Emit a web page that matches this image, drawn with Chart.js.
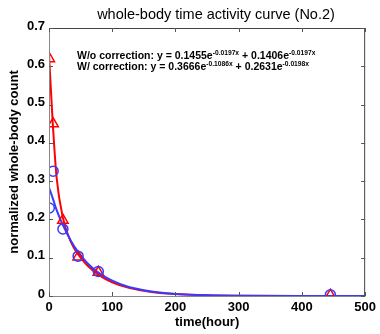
<!DOCTYPE html>
<html>
<head>
<meta charset="utf-8">
<script src="https://cdn.jsdelivr.net/npm/chart.js@4/dist/chart.umd.min.js"></script>
<style>
  html, body { margin: 0; padding: 0; background: #fff; }
  #wrap { width: 380px; height: 334px; }
</style>
</head>
<body>
<div id="wrap"><canvas id="tacChart"></canvas></div>
<script>
// measured points (hours, normalized count)
const sampleTimes = [0.5, 6.5, 22, 46, 78, 445];
const withCorrection = [0.62, 0.45, 0.198, 0.102, 0.062, 0.002];
const withoutCorrection = [0.23, 0.326, 0.175, 0.104, 0.064, 0.003];

// fitted curves
const fitTimes = [0, 6, 12, 22, 35, 45, 60, 78, 100, 125, 150, 175, 200, 250, 300, 400, 500];
const fitWith = [0.63, 0.45, 0.31, 0.204, 0.14, 0.111, 0.081, 0.056, 0.036, 0.022, 0.0135, 0.008, 0.005, 0.0019, 0.0007, 0.0001, 0];
const fitWithout = [0.283, 0.255, 0.225, 0.185, 0.143, 0.117, 0.087, 0.061, 0.040, 0.024, 0.015, 0.009, 0.0055, 0.002, 0.0008, 0.0001, 0];

const xTicks = [0, 100, 200, 300, 400, 500];
const yTicks = [0, 0.1, 0.2, 0.3, 0.4, 0.5, 0.6, 0.7];
const yTickLabels = ['0', '0.1', '0.2', '0.3', '0.4', '0.5', '0.6', '0.7'];

const titleText = 'whole-body time activity curve (No.2)';
const eqLines = [
  ['W/o correction: y = 0.1455e', '-0.0197x', ' + 0.1406e', '-0.0197x'],
  ['W/ correction: y = 0.3666e', '-0.1086x', ' + 0.2631e', '-0.0198x']
];

const RED = '#ff0000';
const BLUE = '#3a3aff';
const FONT = 'Arial, "Liberation Sans", sans-serif';

function pairs(xs, ys) {
  return xs.map((x, i) => ({ x: x, y: ys[i] }));
}

// matlab style box, inward ticks, y labels, title and the fit equations
const boxPlugin = {
  id: 'boxPlugin',
  afterDraw(chart) {
    const ctx = chart.ctx;
    const a = chart.chartArea;
    const xs = chart.scales.x, ys = chart.scales.y;
    ctx.save();
    ctx.lineWidth = 1;
    ctx.strokeStyle = '#888';
    ctx.beginPath();
    ctx.moveTo(a.left + 0.5, a.top);
    ctx.lineTo(a.left + 0.5, a.bottom + 0.5);
    ctx.lineTo(a.right, a.bottom + 0.5);
    ctx.stroke();
    ctx.strokeStyle = '#444';
    ctx.beginPath();
    ctx.moveTo(a.left, a.top + 0.5);
    ctx.lineTo(a.right - 0.5, a.top + 0.5);
    ctx.lineTo(a.right - 0.5, a.bottom + 0.5);
    ctx.stroke();

    const tl = 4;
    ctx.strokeStyle = '#555';
    ctx.beginPath();
    xTicks.forEach(v => {
      const px = Math.round(xs.getPixelForValue(v)) + 0.5;
      ctx.moveTo(px, a.bottom); ctx.lineTo(px, a.bottom - tl);
      ctx.moveTo(px, a.top); ctx.lineTo(px, a.top + tl);
    });
    yTicks.forEach(v => {
      const py = Math.round(ys.getPixelForValue(v)) + 0.5;
      ctx.moveTo(a.left, py); ctx.lineTo(a.left + tl, py);
      ctx.moveTo(a.right, py); ctx.lineTo(a.right - tl, py);
    });
    ctx.stroke();

    ctx.fillStyle = '#000';
    ctx.font = 'bold 13px ' + FONT;
    ctx.textAlign = 'right';
    ctx.textBaseline = 'middle';
    yTicks.forEach((v, i) => {
      ctx.fillText(yTickLabels[i], a.left - 4, ys.getPixelForValue(v) - 2);
    });

    ctx.font = '14.5px ' + FONT;
    ctx.textAlign = 'center';
    ctx.fillText(titleText, 216, 15);

    ctx.textAlign = 'left';
    ctx.textBaseline = 'alphabetic';
    const base = 'bold 10.5px ' + FONT;
    const sup = 'bold 6.7px ' + FONT;
    eqLines.forEach((parts, li) => {
      let x = 77;
      const y = 59 + li * 10.7;
      parts.forEach((p, i) => {
        const isSup = i % 2 === 1;
        ctx.font = isSup ? sup : base;
        ctx.fillText(p, x, isSup ? y - 4 : y);
        x += ctx.measureText(p).width;
      });
    });
    ctx.restore();
  }
};

const tickFont = { family: FONT, size: 13, weight: 'bold' };

new Chart('tacChart', {
  type: 'scatter',
  data: {
    datasets: [{
      label: 'W/ correction fit',
      data: pairs(fitTimes, fitWith),
      showLine: true,
      borderColor: RED,
      borderWidth: 2,
      pointRadius: 0,
      cubicInterpolationMode: 'monotone',
      order: 4
    }, {
      label: 'W/o correction fit',
      data: pairs(fitTimes, fitWithout),
      showLine: true,
      borderColor: BLUE,
      borderWidth: 2,
      pointRadius: 0,
      cubicInterpolationMode: 'monotone',
      order: 3
    }, {
      label: 'W/ correction',
      data: pairs(sampleTimes, withCorrection),
      showLine: false,
      pointStyle: 'triangle',
      pointRadius: 6,
      borderColor: RED,
      borderWidth: 1.5,
      backgroundColor: 'rgba(0,0,0,0)',
      order: 2
    }, {
      label: 'W/o correction',
      data: pairs(sampleTimes, withoutCorrection),
      showLine: false,
      pointStyle: 'circle',
      pointRadius: 5,
      borderColor: BLUE,
      borderWidth: 1.5,
      backgroundColor: 'rgba(0,0,0,0)',
      order: 1
    }]
  },
  options: {
    responsive: true,
    maintainAspectRatio: false,
    animation: false,
    layout: { padding: { top: 28, right: 12, left: 0, bottom: 0 } },
    plugins: {
      legend: { display: false },
      tooltip: { enabled: false }
    },
    scales: {
      x: {
        type: 'linear',
        min: 0,
        max: 500,
        afterFit: s => { s.height = 38; },
        afterBuildTicks: s => { s.ticks = xTicks.map(v => ({ value: v })); },
        grid: { display: false, drawTicks: false },
        border: { display: false },
        ticks: { color: '#000', font: tickFont, padding: 4, maxRotation: 0, autoSkip: false },
        title: { display: true, text: 'time(hour)', color: '#000', font: tickFont, padding: { top: 0, bottom: 4 } }
      },
      y: {
        min: 0,
        max: 0.7,
        afterFit: s => { s.width = 49; },
        afterBuildTicks: s => { s.ticks = yTicks.map(v => ({ value: v })); },
        grid: { display: false, drawTicks: false },
        border: { display: false },
        ticks: { display: false },
        title: { display: true, text: 'normalized whole-body count', color: '#000', font: tickFont, padding: { top: 7, bottom: 0 } }
      }
    }
  },
  plugins: [boxPlugin]
});
</script>
</body>
</html>
